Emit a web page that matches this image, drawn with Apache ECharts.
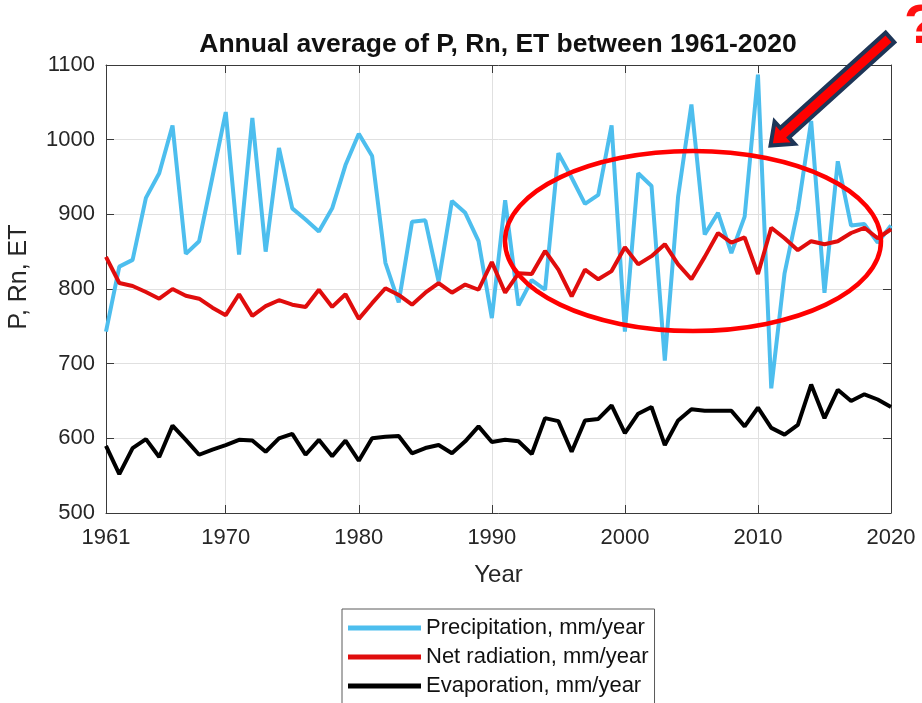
<!DOCTYPE html>
<html>
<head>
<meta charset="utf-8">
<title>Annual average of P, Rn, ET between 1961-2020</title>
<script src="https://cdn.jsdelivr.net/npm/echarts@6/dist/echarts.min.js"></script>
<style>
  html, body { margin: 0; padding: 0; background: #ffffff; }
  #chart { width: 922px; height: 703px; }
</style>
</head>
<body>
<div id="chart"></div>
<script>
// Years on the horizontal axis
const years = [];
for (let y = 1961; y <= 2020; y++) years.push(String(y));

// Years that carry a tick, label and grid line
const tickYears = [1961, 1970, 1980, 1990, 2000, 2010, 2020];

// Annual precipitation, mm/year
const precipitation = [
  743, 830, 839, 922, 955, 1019, 847, 864, 950, 1037,
  846, 1029, 850, 989, 908, 893, 877, 908, 966, 1008,
  978, 835, 782, 890, 892, 810, 918, 902, 864, 761,
  919, 778, 812, 799, 982, 949, 914, 926, 1019, 743,
  955, 938, 704, 924, 1047, 873, 902, 848, 897, 1087,
  667, 821, 906, 1025, 795, 971, 885, 887, 862, 885
];

// Annual net radiation, mm/year
const netRadiation = [
  843, 808, 804, 796, 787, 800, 791, 787, 775, 765,
  793, 764, 777, 785, 779, 776, 799, 776, 793, 760,
  781, 801, 792, 779, 795, 808, 795, 806, 799, 836,
  795, 821, 820, 851, 826, 790, 826, 813, 824, 856,
  833, 844, 860, 833, 813, 843, 875, 862, 869, 820,
  882, 868, 852, 864, 860, 864, 875, 882, 868, 880
];

// Annual evaporation, mm/year
const evaporation = [
  590, 552, 587, 599, 575, 617, 598, 578, 585, 591,
  598, 597, 582, 600, 606, 578, 598, 576, 597, 570,
  600, 602, 603, 580, 587, 591, 580, 596, 616, 595,
  598, 596, 579, 627, 623, 582, 624, 626, 644, 607,
  633, 642, 591, 624, 639, 637, 637, 637, 616, 641,
  614, 605, 618, 672, 627, 665, 650, 659, 652, 642
];

const seriesNames = [
  'Precipitation, mm/year',
  'Net radiation, mm/year',
  'Evaporation, mm/year'
];

const FONT = '"Liberation Sans", Arial, Helvetica, sans-serif';
const AXIS_COLOR = '#3a3a3a';
const GRID_COLOR = '#e0e0e0';

const isTickYear = (index, value) => tickYears.indexOf(Number(value)) !== -1;

// Annotation arrow: outlined block arrow pointing down-left
function arrowPoints(tip, tail, shaftHalf, headHalf, headLen) {
  const dx = tail[0] - tip[0], dy = tail[1] - tip[1];
  const len = Math.sqrt(dx * dx + dy * dy);
  const ux = dx / len, uy = dy / len;
  const nx = -uy, ny = ux;
  const bx = tip[0] + ux * headLen, by = tip[1] + uy * headLen;
  return [
    [tail[0] + nx * shaftHalf, tail[1] + ny * shaftHalf],
    [bx + nx * shaftHalf, by + ny * shaftHalf],
    [bx + nx * headHalf, by + ny * headHalf],
    [tip[0], tip[1]],
    [bx - nx * headHalf, by - ny * headHalf],
    [bx - nx * shaftHalf, by - ny * shaftHalf],
    [tail[0] - nx * shaftHalf, tail[1] - ny * shaftHalf]
  ];
}

const chart = echarts.init(document.getElementById('chart'), null, { renderer: 'canvas' });

const option = {
  animation: false,
  backgroundColor: '#ffffff',
  textStyle: { fontFamily: FONT },
  grid: { left: 106, right: 31, top: 65, bottom: 190, containLabel: false, outerBoundsMode: 'none' },
  legend: {
    orient: 'vertical',
    left: 342,
    top: 609,
    height: 140,
    data: seriesNames,
    icon: 'rect',
    itemWidth: 73,
    itemHeight: 5,
    itemGap: 7,
    padding: [8, 6, 9, 6],
    borderColor: '#5a5a5a',
    borderWidth: 1,
    backgroundColor: '#ffffff',
    textStyle: { fontFamily: FONT, fontSize: 22, color: '#111111' }
  },
  xAxis: [
    {
      type: 'category',
      data: years,
      boundaryGap: false,
      position: 'bottom',
      name: 'Year',
      nameLocation: 'middle',
      nameGap: 50,
      nameTextStyle: { fontFamily: FONT, fontSize: 24, color: '#262626' },
      axisLine: { show: true, lineStyle: { color: AXIS_COLOR, width: 1 } },
      axisTick: { show: true, inside: true, length: 8, interval: isTickYear, lineStyle: { color: AXIS_COLOR } },
      axisLabel: { interval: isTickYear, margin: 14, fontFamily: FONT, fontSize: 22, color: '#262626' },
      splitLine: { show: true, interval: isTickYear, lineStyle: { color: GRID_COLOR, width: 1 } }
    },
    {
      type: 'category',
      data: years,
      boundaryGap: false,
      position: 'top',
      axisLine: { show: true, lineStyle: { color: AXIS_COLOR, width: 1 } },
      axisTick: { show: true, inside: true, length: 8, interval: isTickYear, lineStyle: { color: AXIS_COLOR } },
      axisLabel: { show: false },
      splitLine: { show: false }
    }
  ],
  yAxis: [
    {
      type: 'value',
      min: 500,
      max: 1100,
      interval: 100,
      position: 'left',
      name: 'P, Rn, ET',
      nameLocation: 'middle',
      nameGap: 74,
      nameTextStyle: { fontFamily: FONT, fontSize: 25, color: '#262626', padding: [0, 0, 0, 24] },
      axisLine: { show: true, lineStyle: { color: AXIS_COLOR, width: 1 } },
      axisTick: { show: true, inside: true, length: 8, lineStyle: { color: AXIS_COLOR } },
      axisLabel: {
        margin: 11,
        fontFamily: FONT,
        fontSize: 22,
        color: '#262626',
        formatter: (v) => String(v)
      },
      splitLine: { show: true, lineStyle: { color: GRID_COLOR, width: 1 } }
    },
    {
      type: 'value',
      min: 500,
      max: 1100,
      interval: 100,
      position: 'right',
      axisLine: { show: true, lineStyle: { color: AXIS_COLOR, width: 1 } },
      axisTick: { show: true, inside: true, length: 8, lineStyle: { color: AXIS_COLOR } },
      axisLabel: { show: false },
      splitLine: { show: false }
    }
  ],
  series: [
    {
      name: seriesNames[0],
      type: 'line',
      data: precipitation,
      color: '#4dbeee',
      showSymbol: false,
      lineStyle: { width: 4, color: '#4dbeee' },
      z: 2
    },
    {
      name: seriesNames[1],
      type: 'line',
      data: netRadiation,
      color: '#e00d0d',
      showSymbol: false,
      lineStyle: { width: 4, color: '#e00d0d' },
      z: 3
    },
    {
      name: seriesNames[2],
      type: 'line',
      data: evaporation,
      color: '#000000',
      showSymbol: false,
      lineStyle: { width: 4, color: '#000000' },
      z: 4
    }
  ],
  graphic: [
    {
      type: 'text',
      x: 498,
      y: 45,
      z: 10,
      style: {
        text: 'Annual average of P, Rn, ET between 1961-2020',
        font: 'bold 26.5px ' + FONT,
        fill: '#111111',
        align: 'center',
        verticalAlign: 'middle'
      }
    },
    {
      type: 'ellipse',
      z: 20,
      shape: { cx: 693, cy: 241, rx: 188, ry: 90 },
      style: { fill: 'none', stroke: '#ff0000', lineWidth: 4.5 }
    },
    {
      type: 'polygon',
      z: 21,
      shape: { points: arrowPoints([770.5, 145.5], [890, 37.5], 6.5, 15, 19) },
      style: { fill: '#ff0000', stroke: '#1d3557', lineWidth: 4, lineJoin: 'miter' }
    },
    {
      type: 'text',
      z: 21,
      x: 904,
      y: 0,
      style: {
        text: '?',
        font: 'bold 56px ' + FONT,
        fill: '#ff1010',
        align: 'left',
        verticalAlign: 'top'
      }
    }
  ]
};

chart.setOption(option);
</script>
</body>
</html>
